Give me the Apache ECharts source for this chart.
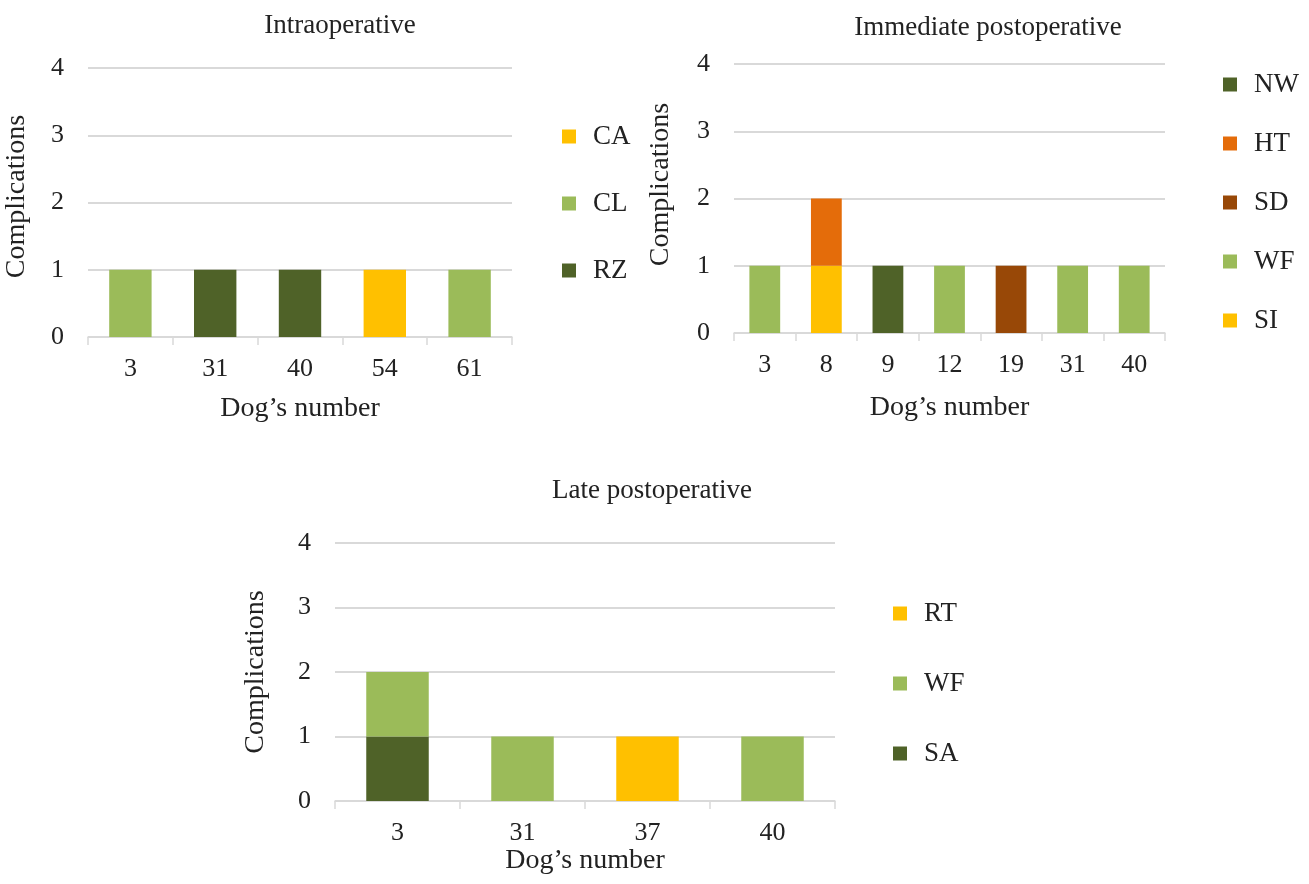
<!DOCTYPE html>
<html>
<head>
<meta charset="utf-8">
<script src="https://cdn.jsdelivr.net/npm/echarts@6/dist/echarts.min.js"></script>
<style>
  html, body { margin: 0; padding: 0; background: #fff; }
  #chart { width: 1309px; height: 884px; }
</style>
</head>
<body>
<div id="chart"></div>
<script>
// categories (dog numbers)
var dogsIntra = ['3', '31', '40', '54', '61']
var dogsImmediate = ['3', '8', '9', '12', '19', '31', '40']
var dogsLate = ['3', '31', '37', '40']

// intraoperative
var intraCA = [null, null, null, 1, null]
var intraCL = [1, null, null, null, 1]
var intraRZ = [null, 1, 1, null, null]

// immediate postoperative (stack bottom -> top: SI, WF, SD, HT, NW)
var immSI = [null, 1, null, null, null, null, null]
var immWF = [1, null, null, 1, null, 1, 1]
var immSD = [null, null, null, null, 1, null, null]
var immHT = [null, 1, null, null, null, null, null]
var immNW = [null, null, 1, null, null, null, null]

// late postoperative (stack bottom -> top: SA, WF, RT)
var lateSA = [1, null, null, null]
var lateWF = [1, 1, null, 1]
var lateRT = [null, null, 1, null]

var yTicks = [0, 1, 2, 3, 4]

var colors = {
  yellow: '#FFC000',
  light: '#9BBB59',
  dark: '#4F6228',
  orange: '#E46C0A',
  brown: '#984807'
}

var font = 'Liberation Serif, Times New Roman, serif'
var chart = echarts.init(document.getElementById('chart'))

function xAxis(idx, data, gap) {
  return {
    type: 'category',
    gridIndex: idx,
    data: data,
    name: 'Dog\u2019s number',
    nameLocation: 'middle',
    nameGap: gap,
    nameTextStyle: { fontFamily: font, fontSize: 28, color: '#222' },
    axisLine: { lineStyle: { color: '#d9d9d9', width: 1.5 } },
    axisTick: { show: true, length: 8, lineStyle: { color: '#d9d9d9', width: 1.5 } },
    axisLabel: { fontFamily: font, fontSize: 26, color: '#222', margin: 19 }
  }
}

// shift moves the rotated name up along the axis
function yAxis(idx, gap, shift) {
  return {
    type: 'value',
    gridIndex: idx,
    min: yTicks[0],
    max: yTicks[yTicks.length - 1],
    interval: 1,
    name: 'Complications',
    nameLocation: 'middle',
    nameGap: gap,
    nameTextStyle: { fontFamily: font, fontSize: 28, color: '#222', padding: [0, 0, 0, shift] },
    axisLine: { show: false },
    axisTick: { show: false },
    splitLine: { lineStyle: { color: '#d9d9d9', width: 2 } },
    axisLabel: { fontFamily: font, fontSize: 26, color: '#222', margin: 24 }
  }
}

function bar(name, idx, stack, data, color) {
  return {
    name: name,
    type: 'bar',
    xAxisIndex: idx,
    yAxisIndex: idx,
    stack: stack,
    barWidth: '50%',
    data: data,
    itemStyle: { color: color },
    emphasis: { disabled: true }
  }
}

function legend(data, left, top, gap) {
  return {
    orient: 'vertical',
    left: left,
    top: top,
    data: data,
    itemGap: gap,
    itemWidth: 14,
    itemHeight: 14,
    icon: 'rect',
    selectedMode: false,
    textStyle: { fontFamily: font, fontSize: 27, color: '#222', padding: [0, 0, 0, 12] }
  }
}

var titleStyle = { fontFamily: font, fontSize: 27, fontWeight: 'normal', color: '#222' }

chart.setOption({
  animation: false,
  title: [
    { text: 'Intraoperative', left: 335, top: 7, textAlign: 'center', textStyle: titleStyle },
    { text: 'Immediate postoperative', left: 983, top: 9, textAlign: 'center', textStyle: titleStyle },
    { text: 'Late postoperative', left: 647, top: 472, textAlign: 'center', textStyle: titleStyle }
  ],
  grid: [
    { left: 88, top: 68, width: 424, height: 269 },
    { left: 734, top: 64, width: 431, height: 269 },
    { left: 335, top: 543, width: 500, height: 258 }
  ],
  xAxis: [
    xAxis(0, dogsIntra, 58),
    xAxis(1, dogsImmediate, 61),
    xAxis(2, dogsLate, 42)
  ],
  yAxis: [
    yAxis(0, 57, 12),
    yAxis(1, 59, 28),
    yAxis(2, 65, 0)
  ],
  legend: [
    legend(['CA', 'CL', 'RZ'], 557, 118, 40),
    legend(['NW', 'HT', 'SD', 'WF', 'SI'], 1218, 66, 32),
    legend(['RT', 'WF', 'SA'], 888, 595, 43)
  ],
  series: [
    bar('CA', 0, 'intra', intraCA, colors.yellow),
    bar('CL', 0, 'intra', intraCL, colors.light),
    bar('RZ', 0, 'intra', intraRZ, colors.dark),

    bar('SI', 1, 'imm', immSI, colors.yellow),
    bar('WF', 1, 'imm', immWF, colors.light),
    bar('SD', 1, 'imm', immSD, colors.brown),
    bar('HT', 1, 'imm', immHT, colors.orange),
    bar('NW', 1, 'imm', immNW, colors.dark),

    bar('SA', 2, 'late', lateSA, colors.dark),
    bar('WF', 2, 'late', lateWF, colors.light),
    bar('RT', 2, 'late', lateRT, colors.yellow)
  ]
})
</script>
</body>
</html>
